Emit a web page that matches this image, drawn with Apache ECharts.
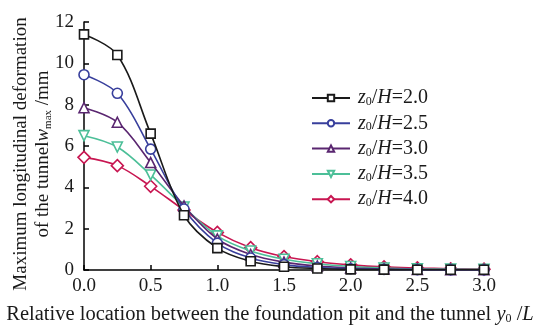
<!DOCTYPE html>
<html>
<head>
<meta charset="utf-8">
<script src="https://cdn.jsdelivr.net/npm/echarts@6/dist/echarts.min.js"></script>
<style>
  html, body { margin: 0; padding: 0; background: #fff; }
  #chart { width: 541px; height: 329px; }
</style>
</head>
<body>
<div id="chart"></div>
<script>
// relative location y0/L
const xValues = [0, 0.25, 0.5, 0.75, 1.0, 1.25, 1.5, 1.75, 2.0, 2.25, 2.5, 2.75, 3.0];

// z0/H ratios shown in legend
const ratios = ['2.0', '2.5', '3.0', '3.5', '4.0'];

// maximum longitudinal deformation w_max (mm)
const wH20 = [11.4, 10.4, 6.6, 2.65, 1.06, 0.42, 0.16, 0.07, 0.03, 0.02, 0.01, 0.01, 0.01];
const wH25 = [9.45, 8.55, 5.85, 2.95, 1.3, 0.58, 0.26, 0.12, 0.06, 0.03, 0.02, 0.01, 0.01];
const wH30 = [7.85, 7.15, 5.2, 3.1, 1.5, 0.75, 0.38, 0.19, 0.1, 0.05, 0.03, 0.02, 0.01];
const wH35 = [6.5, 5.95, 4.6, 3.05, 1.65, 0.92, 0.52, 0.3, 0.17, 0.1, 0.06, 0.04, 0.03];
const wH40 = [5.45, 5.05, 4.05, 2.9, 1.82, 1.08, 0.65, 0.4, 0.25, 0.15, 0.1, 0.06, 0.04];

const yTicks = [0, 2, 4, 6, 8, 10, 12];

const serif = '"Liberation Serif", "Times New Roman", serif';

const styles = [
  { data: wH20, color: '#1a1a1a', symbol: 'rect', rotate: 0, size: 9 },
  { data: wH25, color: '#383f9c', symbol: 'circle', rotate: 0, size: 10 },
  { data: wH30, color: '#5a2670', symbol: 'triangle', rotate: 0, size: 10 },
  { data: wH35, color: '#4cbf98', symbol: 'triangle', rotate: 180, size: 10 },
  { data: wH40, color: '#c81651', symbol: 'diamond', rotate: 0, size: 12 }
];

const chart = echarts.init(document.getElementById('chart'));

const series = styles.map((s, i) => ({
  name: 'r' + ratios[i],
  type: 'line',
  data: xValues.map((x, j) => [x, s.data[j]]),
  smooth: 0.35,
  symbol: s.symbol,
  symbolSize: s.size,
  symbolRotate: s.rotate,
  showAllSymbol: true,
  lineStyle: { color: s.color, width: 1.6 },
  itemStyle: { color: '#fff', borderColor: s.color, borderWidth: 1.6 },
  z: 10 - i,
  emphasis: { disabled: true }
}));

const richText = (size) => ({
  i: { fontFamily: serif, fontSize: size, fontStyle: 'italic', color: '#1a1a1a' },
  s: { fontFamily: serif, fontSize: Math.round(size * 0.6), color: '#1a1a1a', verticalAlign: 'bottom', padding: [7, 0, 0, 0] },
  n: { fontFamily: serif, fontSize: size, color: '#1a1a1a' }
});

const option = {
  animation: false,
  backgroundColor: '#fff',
  grid: { left: 84, right: 57, top: 22, bottom: 59, containLabel: false, outerBoundsMode: 'none' },
  legend: {
    orient: 'vertical',
    left: 306,
    top: 83,
    itemWidth: 38,
    itemHeight: 8,
    itemGap: 5.3,
    textStyle: {
      fontFamily: serif,
      fontSize: 20,
      color: '#1a1a1a',
      padding: [0, 0, 0, 3],
      rich: richText(20)
    },
    formatter: (name) => '{i|z}{s|0}{n|/}{i|H}{n|=' + name.slice(1) + '}'
  },
  xAxis: {
    type: 'value',
    min: 0,
    max: 3,
    interval: 0.5,
    name: 'Relative location between the foundation pit and the tunnel {i|y}{s|0}{n| /}{i|L}',
    nameLocation: 'middle',
    nameGap: 34,
    nameMoveOverlap: false,
    nameTextStyle: {
      fontFamily: serif,
      fontSize: 20.5,
      color: '#1a1a1a',
      padding: [0, 28, 0, 0],
      rich: richText(20.5)
    },
    axisLine: { show: true, onZero: false, lineStyle: { color: '#000', width: 1.5 } },
    axisTick: { show: true, inside: true, length: 5, lineStyle: { color: '#000', width: 1.5 } },
    axisLabel: {
      fontFamily: serif,
      fontSize: 19,
      color: '#1a1a1a',
      margin: 7,
      formatter: (v) => v.toFixed(1)
    },
    splitLine: { show: false }
  },
  yAxis: {
    type: 'value',
    min: yTicks[0],
    max: yTicks[yTicks.length - 1],
    interval: 2,
    name: 'Maximum longitudinal deformation\nof the tunnel{i|w}{s|max}{n| /mm}',
    nameLocation: 'middle',
    nameRotate: 90,
    nameGap: 30,
    nameMoveOverlap: false,
    nameTextStyle: {
      fontFamily: serif,
      fontSize: 19,
      color: '#1a1a1a',
      lineHeight: 22,
      padding: [0, 16, 0, 0],
      rich: richText(19)
    },
    axisLine: { show: true, lineStyle: { color: '#000', width: 1.5 } },
    axisTick: { show: true, inside: true, length: 5, lineStyle: { color: '#000', width: 1.5 } },
    axisLabel: {
      fontFamily: serif,
      fontSize: 19,
      color: '#1a1a1a',
      margin: 10
    },
    splitLine: { show: false }
  },
  series
};

chart.setOption(option);
</script>
</body>
</html>
